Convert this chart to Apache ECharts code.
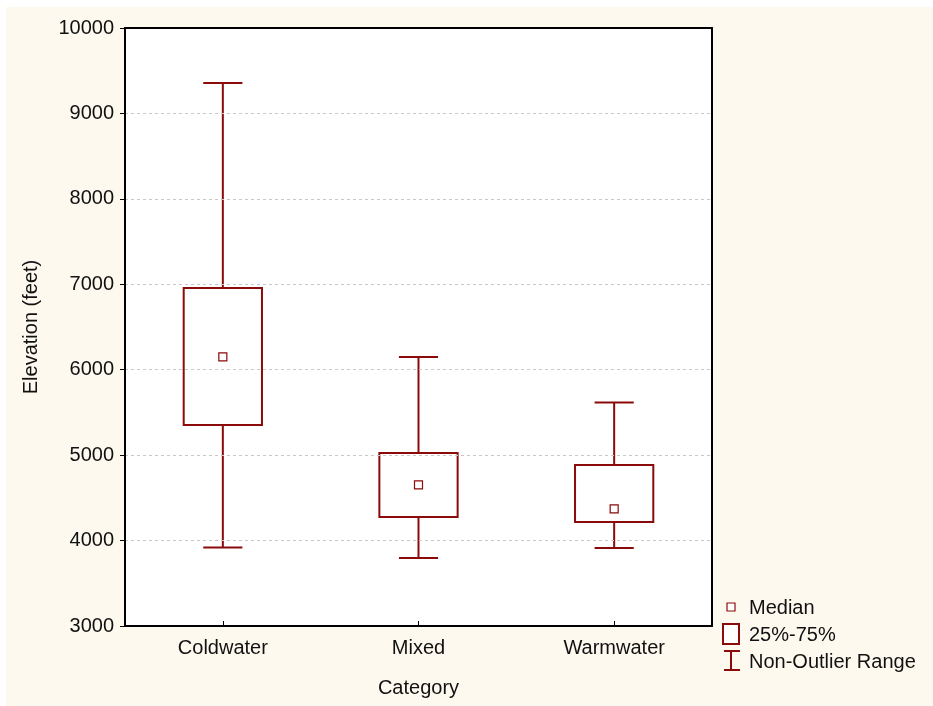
<!DOCTYPE html>
<html><head><meta charset="utf-8">
<script src="https://cdn.jsdelivr.net/npm/echarts@6/dist/echarts.min.js"></script>
<style>html,body{margin:0;padding:0;background:#fff}#c{width:933px;height:706px}</style>
</head><body><div id="c"></div>
<script>
const categories = ['Coldwater', 'Mixed', 'Warmwater'];
const minValues = [3920, 3796, 3913];
const q1Values = [5353, 4276, 4217];
const medianValues = [6150, 4651, 4370];
const q3Values = [6957, 5025, 4885];
const maxValues = [9356, 6149, 5615];
const yTicks = [3000, 4000, 5000, 6000, 7000, 8000, 9000, 10000];

const RED = '#8b0a0a';
const FONT = '"Liberation Sans", Arial, sans-serif';
const FS = 20;
const TXT = '#111';
const data = categories.map((c, i) => [i, minValues[i], q1Values[i], medianValues[i], q3Values[i], maxValues[i]]);

const chart = echarts.init(document.getElementById('c'));
chart.setOption({
  backgroundColor: '#fff',
  animation: false,
  graphic: [
    { type: 'rect', z: -10, shape: { x: 6, y: 7, width: 927, height: 699 }, style: { fill: '#fdf9ee' } },
    // legend
    { type: 'rect', shape: { x: 727, y: 603, width: 8, height: 8 }, style: { fill: '#fff', stroke: RED, lineWidth: 1.2 } },
    { type: 'text', x: 749, y: 608, style: { text: 'Median', font: FS + 'px ' + FONT, fill: TXT, verticalAlign: 'middle' } },
    { type: 'rect', shape: { x: 723, y: 624, width: 16, height: 20 }, style: { fill: '#fff', stroke: RED, lineWidth: 2 } },
    { type: 'text', x: 749, y: 635, style: { text: '25%-75%', font: FS + 'px ' + FONT, fill: TXT, verticalAlign: 'middle' } },
    { type: 'line', shape: { x1: 724, y1: 651, x2: 740, y2: 651 }, style: { stroke: RED, lineWidth: 2 } },
    { type: 'line', shape: { x1: 731, y1: 651, x2: 731, y2: 670 }, style: { stroke: RED, lineWidth: 2 } },
    { type: 'line', shape: { x1: 724, y1: 670, x2: 740, y2: 670 }, style: { stroke: RED, lineWidth: 2 } },
    { type: 'text', x: 749, y: 662, style: { text: 'Non-Outlier Range', font: FS + 'px ' + FONT, fill: TXT, verticalAlign: 'middle' } }
  ],
  grid: { left: 125, top: 28, right: 221, bottom: 80, outerBoundsMode: 'none', containLabel: false,
    show: true, backgroundColor: '#fff', borderWidth: 0 },
  xAxis: [{
    type: 'category', data: categories,
    name: 'Category', nameLocation: 'middle', nameGap: 52,
    nameTextStyle: { fontFamily: FONT, fontSize: FS, color: TXT },
    axisLine: { lineStyle: { color: '#000', width: 2 } },
    axisTick: { show: true, inside: true, length: 5, alignWithLabel: true, lineStyle: { color: '#000' } },
    axisLabel: { fontFamily: FONT, fontSize: FS, color: TXT, margin: 12 },
    splitLine: { show: false }, z: 10
  }, {
    type: 'category', data: categories, position: 'top',
    axisLine: { show: true, lineStyle: { color: '#000', width: 2 } },
    axisTick: { show: false }, axisLabel: { show: false }, splitLine: { show: false }, z: 10
  }],
  yAxis: [{
    type: 'value', min: 3000, max: 10000, interval: 1000,
    name: 'Elevation (feet)', nameLocation: 'middle', nameGap: 84,
    nameTextStyle: { fontFamily: FONT, fontSize: FS, color: TXT },
    axisLine: { show: true, lineStyle: { color: '#000', width: 2 } },
    axisTick: { show: true, length: 5, lineStyle: { color: '#000' } },
    axisLabel: { fontFamily: FONT, fontSize: FS, color: TXT, margin: 11,
      formatter: v => yTicks.includes(v) ? String(v) : '' },
    splitLine: { show: true, lineStyle: { color: '#c8c8c8', type: [3, 3], width: 1 } }, z: 10
  }, {
    type: 'value', min: 3000, max: 10000, interval: 1000, position: 'right',
    axisLine: { show: true, lineStyle: { color: '#000', width: 2 } },
    axisTick: { show: false }, axisLabel: { show: false }, splitLine: { show: false }, z: 10
  }],
  series: [{
    type: 'custom',
    data: data,
    encode: { x: 0, y: [1, 2, 3, 4, 5] },
    renderItem: function (params, api) {
      const x = api.value(0);
      const pMin = api.coord([x, api.value(1)]);
      const pQ1 = api.coord([x, api.value(2)]);
      const pMed = api.coord([x, api.value(3)]);
      const pQ3 = api.coord([x, api.value(4)]);
      const pMax = api.coord([x, api.value(5)]);
      const bw = api.size([1, 0])[0] * 0.4;
      const cw = api.size([1, 0])[0] * 0.2;
      const cx = pMin[0];
      const ls = { stroke: RED, lineWidth: 2, fill: null };
      return {
        type: 'group',
        children: [
          { type: 'line', shape: { x1: cx, y1: pMax[1], x2: cx, y2: pQ3[1] }, style: ls },
          { type: 'line', shape: { x1: cx, y1: pQ1[1], x2: cx, y2: pMin[1] }, style: ls },
          { type: 'line', shape: { x1: cx - cw / 2, y1: pMax[1], x2: cx + cw / 2, y2: pMax[1] }, style: ls },
          { type: 'line', shape: { x1: cx - cw / 2, y1: pMin[1], x2: cx + cw / 2, y2: pMin[1] }, style: ls },
          { type: 'rect', shape: { x: cx - bw / 2, y: pQ3[1], width: bw, height: pQ1[1] - pQ3[1] }, style: { stroke: RED, lineWidth: 2, fill: '#fff' } },
          { type: 'rect', shape: { x: cx - 4, y: pMed[1] - 4, width: 8, height: 8 }, style: { stroke: RED, lineWidth: 1.2, fill: '#fff' } }
        ]
      };
    }
  }]
});
</script></body></html>
